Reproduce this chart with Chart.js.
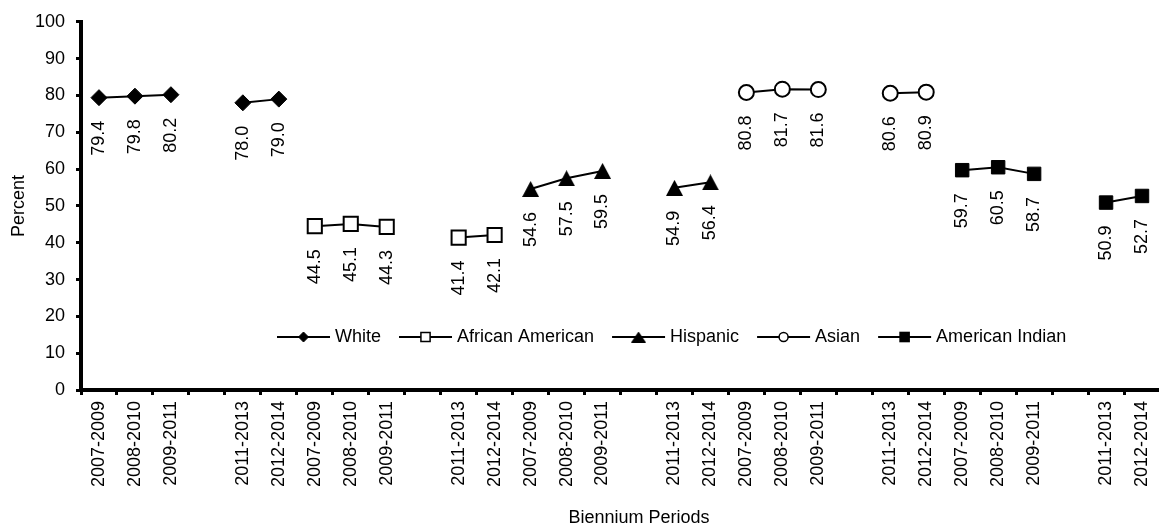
<!DOCTYPE html>
<html>
<head>
<title>Biennium Periods</title>
<script src="https://cdn.jsdelivr.net/npm/chart.js"></script>
<style>
  body { margin:0; background:#fff; overflow:hidden; }
  /* canvas is a little wider than the window so the last slot runs to the edge, as in the original */
  #wrap { width:1159px; height:531px; overflow:hidden; }
</style>
</head>
<body>
<div id="wrap"><canvas id="chart" width="1172" height="531"></canvas></div>
<script>
// groups of biennium periods, '' marks the empty slot between the two runs
const groups = ['White', 'African American', 'Hispanic', 'Asian', 'American Indian'];
const periods = ['2007-2009', '2008-2010', '2009-2011', '', '2011-2013', '2012-2014'];

const white = [79.4, 79.8, 80.2, 78.0, 79.0];
const africanAmerican = [44.5, 45.1, 44.3, 41.4, 42.1];
const hispanic = [54.6, 57.5, 59.5, 54.9, 56.4];
const asian = [80.8, 81.7, 81.6, 80.6, 80.9];
const americanIndian = [59.7, 60.5, 58.7, 50.9, 52.7];

const yMin = 0, yMax = 100, yStep = 10;

const FONT = '"Liberation Sans", Arial, Helvetica, sans-serif';
Chart.defaults.font.family = FONT;
Chart.defaults.font.size = 18;
Chart.defaults.color = '#000';

const labels = groups.flatMap(() => periods);

// put a group's five values into its own slots, null everywhere else
function place(g, vals) {
  const out = new Array(labels.length).fill(null);
  let k = 0;
  periods.forEach((p, i) => { if (p) out[g * periods.length + i] = vals[k++]; });
  return out;
}

function triangle(w, h) {
  const c = document.createElement('canvas');
  c.width = w; c.height = h;
  const x = c.getContext('2d');
  x.fillStyle = '#000';
  x.beginPath(); x.moveTo(w / 2, 0); x.lineTo(w, h); x.lineTo(0, h); x.closePath(); x.fill();
  return c;
}

function series(g, vals, style) {
  return Object.assign({
    label: groups[g], data: place(g, vals),
    borderColor: '#000', borderWidth: 2, spanGaps: false, tension: 0,
    pointBorderColor: '#000', pointHoverRadius: 8
  }, style);
}

const datasets = [
  series(0, white, { pointStyle: 'rectRot', pointRadius: 8, pointBackgroundColor: '#000', pointBorderWidth: 1,
                     legend: { style: 'rectRot', radius: 5, fill: '#000', bw: 1 } }),
  series(1, africanAmerican, { pointStyle: 'rect', pointRadius: 10, pointBackgroundColor: '#fff', pointBorderWidth: 2,
                     legend: { style: 'rect', radius: 6.5, fill: '#fff', bw: 1.5 } }),
  series(2, hispanic, { pointStyle: triangle(17, 16), pointRadius: 8,
                     legend: { style: triangle(15, 11), radius: 5, fill: '#000', bw: 0 } }),
  series(3, asian, { pointStyle: 'circle', pointRadius: 7.5, pointBackgroundColor: '#fff', pointBorderWidth: 2,
                     legend: { style: 'circle', radius: 4.5, fill: '#fff', bw: 1.5 } }),
  series(4, americanIndian, { pointStyle: 'rect', pointRadius: 9.5, pointBackgroundColor: '#000', pointBorderWidth: 1,
                     legend: { style: 'rect', radius: 7.5, fill: '#000', bw: 0 } })
];

// vertical value labels under each point
const valueLabels = {
  id: 'valueLabels',
  afterDatasetsDraw(chart) {
    const ctx = chart.ctx;
    ctx.save();
    ctx.font = '18px ' + FONT;
    ctx.fillStyle = '#000';
    ctx.textAlign = 'right';
    ctx.textBaseline = 'middle';
    chart.data.datasets.forEach((ds, i) => {
      chart.getDatasetMeta(i).data.forEach((pt, j) => {
        const v = ds.data[j];
        if (v == null) return;
        ctx.save();
        ctx.translate(pt.x, pt.y + 23);
        ctx.rotate(-Math.PI / 2);
        ctx.fillText(v.toFixed(1), 0, 0);
        ctx.restore();
      });
    });
    ctx.restore();
  }
};

// legend sits inside the plot, plus the x title (which is off-centre in the original)
const insideLegend = {
  id: 'insideLegend',
  afterDraw(chart) {
    const ctx = chart.ctx;
    ctx.save();
    ctx.font = '18px ' + FONT;
    ctx.textBaseline = 'middle';
    ctx.textAlign = 'left';
    let x = 277;
    const y = 337;
    chart.data.datasets.forEach(ds => {
      ctx.strokeStyle = '#000';
      ctx.lineWidth = 2;
      ctx.beginPath(); ctx.moveTo(x, y); ctx.lineTo(x + 53, y); ctx.stroke();
      const m = ds.legend;
      ctx.fillStyle = m.fill;
      ctx.lineWidth = m.bw;
      Chart.helpers.drawPoint(ctx, { pointStyle: m.style, radius: m.radius, borderWidth: m.bw, rotation: 0 }, x + 26.5, y);
      ctx.fillStyle = '#000';
      ctx.fillText(ds.label, x + 58, y);
      x += 58 + ctx.measureText(ds.label).width + 18;
    });
    ctx.textAlign = 'center';
    ctx.fillText('Biennium Periods', 639, 518);
    ctx.restore();
  }
};

new Chart(document.getElementById('chart'), {
  type: 'line',
  data: { labels: labels, datasets: datasets },
  options: {
    responsive: false,
    devicePixelRatio: 1,
    animation: false,
    layout: { padding: { top: 17, left: 0, right: 0, bottom: 0 } },
    plugins: { legend: { display: false }, tooltip: { enabled: false } },
    scales: {
      x: {
        type: 'category',
        offset: true,
        grid: { offset: true, drawOnChartArea: false, drawTicks: true, tickLength: 5, color: '#000', lineWidth: 3 },
        border: { display: true, color: '#000', width: 4 },
        ticks: { autoSkip: false, maxRotation: 90, minRotation: 90, padding: 6, color: '#000' },
        afterFit(s) { s.height = 141; }
      },
      y: {
        min: yMin, max: yMax,
        grid: { drawOnChartArea: false, drawTicks: true, tickLength: 5, color: '#000', lineWidth: 3 },
        border: { display: true, color: '#000', width: 4 },
        ticks: { stepSize: yStep, padding: 11, color: '#000' },
        title: { display: true, text: 'Percent', padding: { top: 8, bottom: 0 }, color: '#000' },
        afterFit(s) { s.width = 81; }
      }
    }
  },
  plugins: [valueLabels, insideLegend]
});
</script>
</body>
</html>
